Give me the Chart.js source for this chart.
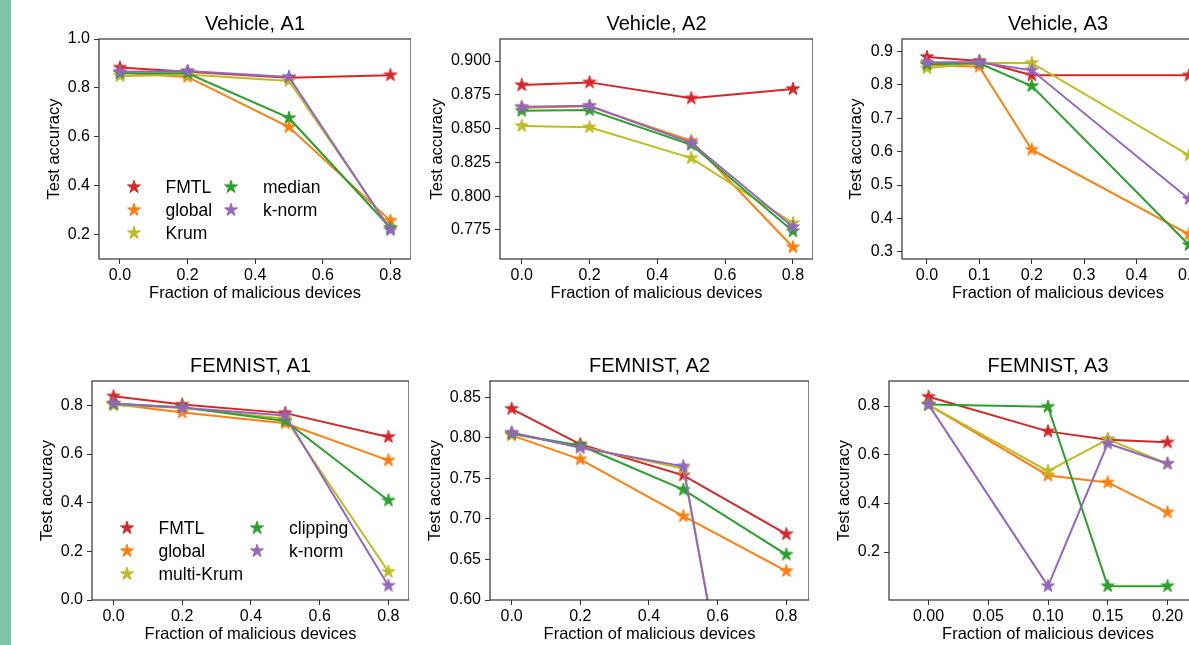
<!DOCTYPE html>
<html lang="en">
<head>
<meta charset="UTF-8">
<title>Test accuracy vs fraction of malicious devices</title>
<script src="https://cdn.jsdelivr.net/npm/chart.js@4.4.1/dist/chart.umd.min.js"></script>
<style>
  html, body { margin: 0; padding: 0; background: #fff; }
  body { width: 1189px; height: 645px; overflow: hidden; position: relative; }
  .side { position: absolute; left: 0; top: 0; width: 11px; height: 645px; background: #7ec4a5; }
  canvas { position: absolute; }
</style>
</head>
<body>
<div class="side"></div>
<canvas id="vehA1"></canvas>
<canvas id="vehA2"></canvas>
<canvas id="vehA3"></canvas>
<canvas id="femA1"></canvas>
<canvas id="femA2"></canvas>
<canvas id="femA3"></canvas>

<script>
// x values (fraction of malicious devices)
const fracMain = [0, 0.2, 0.5, 0.8];
const fracVehA3 = [0, 0.1, 0.2, 0.5];
const fracFemA3 = [0, 0.1, 0.15, 0.2];

const vehicleLabels = ['FMTL', 'global', 'Krum', 'median', 'k-norm'];
const femnistLabels = ['FMTL', 'global', 'multi-Krum', 'clipping', 'k-norm'];
const seriesColors = ['#d62728', '#ff7f0e', '#bcbd22', '#2ca02c', '#9467bd'];

// test accuracy, one row per method (same order as the labels)
const vehicleA1 = [
    [0.883, 0.866, 0.841, 0.852],
    [0.862, 0.845, 0.640, 0.257],
    [0.848, 0.855, 0.828, 0.225],
    [0.860, 0.860, 0.677, 0.228],
    [0.866, 0.869, 0.845, 0.218]
];
const vehicleA2 = [
    [0.8822, 0.8842, 0.8724, 0.8793],
    [0.8655, 0.8665, 0.8410, 0.7622],
    [0.8520, 0.8510, 0.8282, 0.7800],
    [0.8632, 0.8637, 0.8380, 0.7740],
    [0.8661, 0.8669, 0.8395, 0.7772]
];
const vehicleA3 = [
    [0.884, 0.872, 0.829, 0.829],
    [0.860, 0.855, 0.606, 0.352],
    [0.850, 0.866, 0.866, 0.589],
    [0.862, 0.865, 0.797, 0.320],
    [0.868, 0.868, 0.844, 0.458]
];
const femnistA1 = [
    [0.837, 0.803, 0.768, 0.670],
    [0.805, 0.771, 0.726, 0.574],
    [0.800, 0.790, 0.745, 0.116],
    [0.806, 0.792, 0.736, 0.409],
    [0.808, 0.790, 0.758, 0.059]
];
const femnistA2 = [
    [0.8357, 0.7920, 0.7537, 0.6811],
    [0.8030, 0.7734, 0.7033, 0.6357],
    [0.8050, 0.7890, 0.7620, 0.0800],
    [0.8050, 0.7905, 0.7360, 0.6560],
    [0.8065, 0.7877, 0.7648, 0.0600]
];
const femnistA3 = [
    [0.838, 0.696, 0.662, 0.651],
    [0.805, 0.515, 0.486, 0.363],
    [0.805, 0.533, 0.663, 0.563],
    [0.806, 0.797, 0.060, 0.060],
    [0.806, 0.060, 0.646, 0.563]
];

// tick labels
const xTicksMain = [0, 0.2, 0.4, 0.6, 0.8];
const xTicksVehA3 = [0, 0.1, 0.2, 0.3, 0.4, 0.5];
const xTicksFemA3 = [0, 0.05, 0.1, 0.15, 0.2];
const yTicksVehA1 = [0.2, 0.4, 0.6, 0.8, 1.0];
const yTicksVehA2 = [0.775, 0.8, 0.825, 0.85, 0.875, 0.9];
const yTicksVehA3 = [0.3, 0.4, 0.5, 0.6, 0.7, 0.8, 0.9];
const yTicksFemA1 = [0, 0.2, 0.4, 0.6, 0.8];
const yTicksFemA2 = [0.6, 0.65, 0.7, 0.75, 0.8, 0.85];
const yTicksFemA3 = [0.2, 0.4, 0.6, 0.8];

Chart.defaults.font.family = "'Liberation Sans', Arial, sans-serif";
Chart.defaults.color = '#000';

const INK = '#333';
const TITLE_H = 27;   // title line + gap above plot area
const XAXIS_H = 44;   // ticks + x label below plot area

// filled 5-point star like matplotlib's '*' marker
function makeStar(color) {
    const c = document.createElement('canvas');
    c.width = 18; c.height = 18;
    const g = c.getContext('2d');
    const R = 6.8, r = R * 0.381966;
    g.beginPath();
    for (let k = 0; k < 10; k++) {
        const rad = k % 2 ? r : R;
        const a = -Math.PI / 2 + k * Math.PI / 5;
        const px = 9 + rad * Math.cos(a), py = 9 + rad * Math.sin(a);
        if (k === 0) g.moveTo(px, py); else g.lineTo(px, py);
    }
    g.closePath();
    g.fillStyle = color;
    g.fill();
    g.strokeStyle = color;
    g.lineWidth = 1;
    g.stroke();
    return c;
}
const stars = seriesColors.map(makeStar);

// box round the plot area (all four spines)
const framePlugin = {
    id: 'frame',
    afterDraw(chart) {
        const a = chart.chartArea, ctx = chart.ctx;
        ctx.save();
        ctx.strokeStyle = INK;
        ctx.lineWidth = 1.2;
        ctx.strokeRect(Math.round(a.left), Math.round(a.top), Math.round(a.right) - Math.round(a.left), Math.round(a.bottom) - Math.round(a.top));
        ctx.restore();
    }
};

// two-column legend inside the plot, no frame
const starLegend = {
    id: 'starLegend',
    afterDraw(chart, args, opts) {
        if (!opts.labels) return;
        const a = chart.chartArea, ctx = chart.ctx;
        const colX = [34.5, opts.col2];
        const rowY = [-72, -48.7, -25.7];
        const slots = [[0, 0], [0, 1], [0, 2], [1, 0], [1, 1]];
        ctx.save();
        ctx.font = "17.5px 'Liberation Sans', Arial, sans-serif";
        ctx.fillStyle = '#000';
        ctx.textBaseline = 'middle';
        ctx.textAlign = 'left';
        opts.labels.forEach((lab, i) => {
            const [c, r] = slots[i];
            const x = a.left + colX[c], y = a.bottom + rowY[r];
            const s = stars[i];
            ctx.drawImage(s, Math.round(x - s.width / 2), Math.round(y - s.height / 2));
            ctx.fillText(lab, x + 32, y + 1);
        });
        ctx.restore();
    }
};

function drawPanel(p) {
    const el = document.getElementById(p.id);
    el.width = p.yw + (p.R - p.L);
    el.height = TITLE_H + (p.B - p.T) + XAXIS_H;
    el.style.left = (p.L - p.yw) + 'px';
    el.style.top = (p.T - TITLE_H) + 'px';

    const datasets = p.rows.map((ys, i) => ({
        label: p.labels[i],
        data: p.xs.map((x, j) => ({ x: x, y: ys[j] })),
        borderColor: seriesColors[i],
        backgroundColor: seriesColors[i],
        borderWidth: 2,
        tension: 0,
        pointStyle: stars[i],
        pointRadius: 6,
        order: p.rows.length - i
    }));

    new Chart(el, {
        type: 'line',
        data: { datasets: datasets },
        options: {
            responsive: false,
            animation: false,
            events: [],
            layout: { autoPadding: false, padding: 0 },
            scales: {
                x: {
                    type: 'linear',
                    min: p.xMin, max: p.xMax,
                    afterBuildTicks: s => { s.ticks = p.xTicks.map(v => ({ value: v })); },
                    afterFit: s => { s.height = XAXIS_H; },
                    ticks: {
                        autoSkip: false, maxRotation: 0, minRotation: 0, padding: 2,
                        font: { size: 16 },
                        callback: v => v.toFixed(p.xDec)
                    },
                    grid: { display: true, drawOnChartArea: false, drawTicks: true, tickLength: 5, color: INK },
                    border: { display: false },
                    title: { display: true, text: 'Fraction of malicious devices', font: { size: 16.5 }, padding: 0 }
                },
                y: {
                    type: 'linear',
                    min: p.yMin, max: p.yMax,
                    afterBuildTicks: s => { s.ticks = p.yTicks.map(v => ({ value: v })); },
                    afterFit: s => { s.width = p.yw; },
                    ticks: {
                        autoSkip: false, padding: 4,
                        font: { size: 16 },
                        callback: v => v.toFixed(p.yDec)
                    },
                    grid: { display: true, drawOnChartArea: false, drawTicks: true, tickLength: 5, color: INK },
                    border: { display: false },
                    title: { display: true, text: 'Test accuracy', font: { size: 16.5 }, padding: 0 }
                }
            },
            plugins: {
                legend: { display: false },
                tooltip: { enabled: false },
                title: {
                    display: true, text: p.title, fullSize: false,
                    font: { size: 20, weight: 'normal' },
                    padding: { top: 0, bottom: 3 }
                },
                starLegend: p.legend || {}
            }
        },
        plugins: [framePlugin, starLegend]
    });
}

drawPanel({ id: 'vehA1', title: 'Vehicle, A1', L: 99, R: 411, T: 39, B: 259, yw: 54,
    xs: fracMain, rows: vehicleA1, labels: vehicleLabels,
    xMin: -0.062, xMax: 0.861, xTicks: xTicksMain, xDec: 1,
    yMin: 0.1, yMax: 1.0, yTicks: yTicksVehA1, yDec: 1,
    legend: { labels: vehicleLabels, col2: 132 } });

drawPanel({ id: 'vehA2', title: 'Vehicle, A2', L: 500, R: 813, T: 39, B: 259, yw: 72,
    xs: fracMain, rows: vehicleA2, labels: vehicleLabels,
    xMin: -0.064, xMax: 0.859, xTicks: xTicksMain, xDec: 1,
    yMin: 0.7535, yMax: 0.9163, yTicks: yTicksVehA2, yDec: 3 });

drawPanel({ id: 'vehA3', title: 'Vehicle, A3', L: 902, R: 1214, T: 39, B: 259, yw: 55,
    xs: fracVehA3, rows: vehicleA3, labels: vehicleLabels,
    xMin: -0.0476, xMax: 0.5476, xTicks: xTicksVehA3, xDec: 1,
    yMin: 0.278, yMax: 0.938, yTicks: yTicksVehA3, yDec: 1 });

drawPanel({ id: 'femA1', title: 'FEMNIST, A1', L: 92, R: 409, T: 381, B: 600, yw: 54,
    xs: fracMain, rows: femnistA1, labels: femnistLabels,
    xMin: -0.0626, xMax: 0.86, xTicks: xTicksMain, xDec: 1,
    yMin: 0, yMax: 0.9, yTicks: yTicksFemA1, yDec: 1,
    legend: { labels: femnistLabels, col2: 165 } });

drawPanel({ id: 'femA2', title: 'FEMNIST, A2', L: 490, R: 809, T: 381, B: 600, yw: 64,
    xs: fracMain, rows: femnistA2, labels: femnistLabels,
    xMin: -0.063, xMax: 0.866, xTicks: xTicksMain, xDec: 1,
    yMin: 0.6, yMax: 0.87, yTicks: yTicksFemA2, yDec: 2 });

drawPanel({ id: 'femA3', title: 'FEMNIST, A3', L: 889, R: 1207, T: 381, B: 600, yw: 54,
    xs: fracFemA3, rows: femnistA3, labels: femnistLabels,
    xMin: -0.0331, xMax: 0.2331, xTicks: xTicksFemA3, xDec: 2,
    yMin: 0.003, yMax: 0.903, yTicks: yTicksFemA3, yDec: 1 });
</script>
</body>
</html>
